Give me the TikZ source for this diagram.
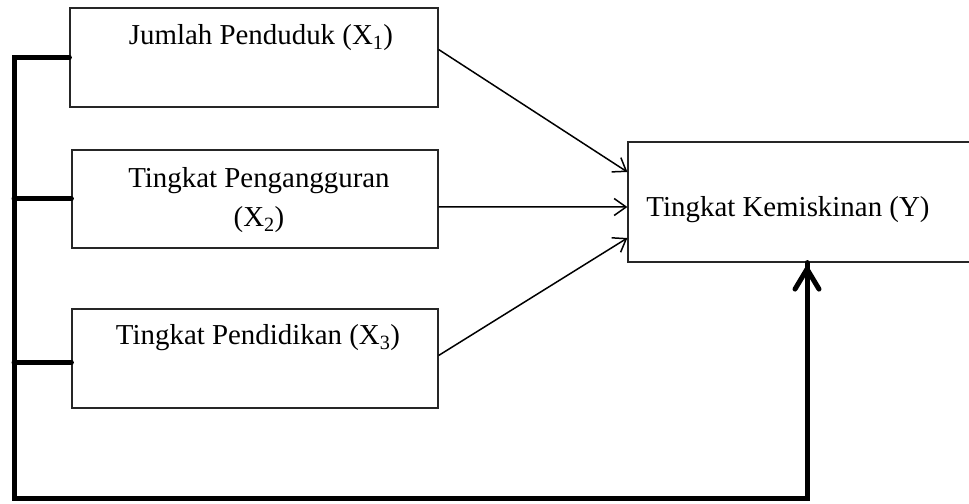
\documentclass[tikz,border=0pt]{standalone}
\usepackage{fontspec}
\setmainfont{Liberation Serif}
\usepackage{tikz}
\usetikzlibrary{arrows.meta, positioning}

\begin{document}
\begin{tikzpicture}[
    % GLOBAL CFG
    x=1bp, y=-1bp,
    font=\fontsize{29}{40}\selectfont,
    % Styles
    varbox/.style={% For the variable boxes
        rectangle,
        draw=black!85,
        line width=1.2bp,
        inner sep=0pt,
        },
    vartext/.style={% For the texts inside the boxes
        align=center,
        inner sep=0pt,
        },
    ArrowThin/.style={% Thin arrows to Y
        line width=1.5bp,
        -{Straight Barb[length=12bp, width=17bp]},
        },
    ArrowFat/.style={% Big line on the left and bottom
        line width=5bp,
        line cap=round,
        },
    ]

    \useasboundingbox (0,0) rectangle (969,504);

    % Draw the boxes named box#
    \node [varbox, minimum width=368bp, minimum height=99bp] (box1) at (254,57.5) {};
    \node [varbox, minimum width=366bp, minimum height=98bp] (box2) at (255,199) {};
    \node [varbox, minimum width=366bp, minimum height=99bp] (box3) at (255,358.5) {};
    \node [varbox, minimum width=358bp, minimum height=120bp] (boxY) at (807,202) {};

    % Draw the texts named t#
    \node [vartext] (t1) at (261,38) {Jumlah Penduduk (X\textsubscript{1})};
    \node [vartext] (t2) at (259,200) {Tingkat Pengangguran\\(X\textsubscript{2})};
    \node [vartext] (t3) at (258,338) {Tingkat Pendidikan (X\textsubscript{3})};
    \node [vartext] (tY) at (788,210) {Tingkat Kemiskinan (Y)};

    \coordinate (corner) at (14,498);

% Start connecting all.
    % Thin arrows
    \draw [ArrowThin] ([yshift=8bp]box1.east) -- ([yshift=30bp]boxY.west);
    \draw [ArrowThin] ([yshift=-8bp]box2.east) -- ([yshift=-5bp]boxY.west);
    \draw [ArrowThin] ([yshift=3bp]box3.east) -- ([yshift=-36bp]boxY.west);

    % Fat lines
    \draw [ArrowFat] (box1.west) -| (corner) -| (boxY.south);
    \draw [ArrowFat] (box2.west) -- (box2.west -| corner);
    \draw [ArrowFat] ([yshift=-4bp]box3.west) -- ([yshift=-4bp]box3.west -| corner);
    \draw [ArrowFat, -{Straight Barb[length=20bp, width=24bp, line cap=round, line join=round]}, shorten >=4bp]
        (corner -| boxY.south) -- (boxY.south);

\end{tikzpicture}
\end{document}
